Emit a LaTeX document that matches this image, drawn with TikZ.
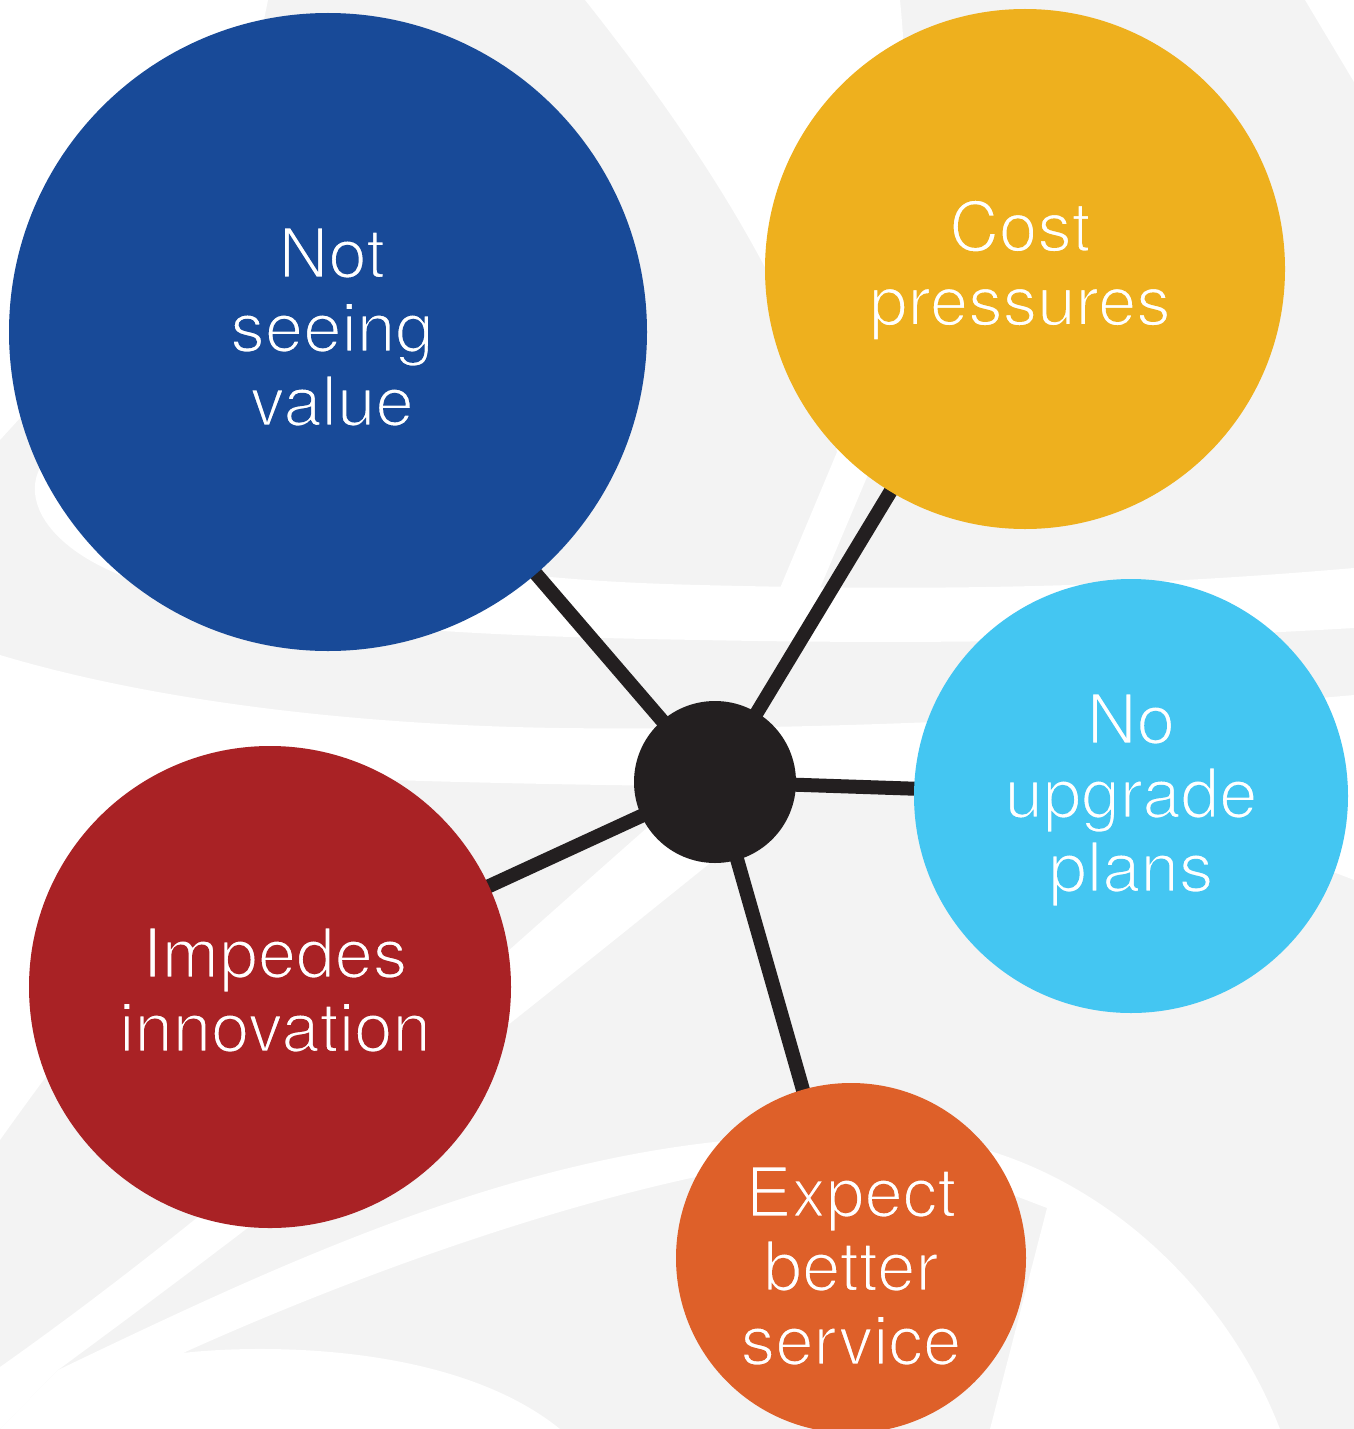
\documentclass[tikz,border=0pt]{standalone}
\usepackage{fontspec}
\setmainfont{TeX Gyre Heros}
\definecolor{paper}{HTML}{F3F3F3}
\definecolor{navy}{HTML}{184A98}
\definecolor{amber}{HTML}{EEB01E}
\definecolor{sky}{HTML}{44C6F2}
\definecolor{brick}{HTML}{A92225}
\definecolor{rust}{HTML}{DE6029}
\definecolor{hubcol}{HTML}{231F20}
% trim the glyph outlines with a thin stroke in the bubble colour
\newcommand\lightink[1]{\special{pdf:literal direct #1 RG 2 Tr 1 w}}
\pgfdeclarelayer{back}
\pgfdeclarelayer{links}
\pgfsetlayers{back,links,main}
\begin{document}
\begin{tikzpicture}[x=0.5pt,y=-0.5pt,
  bubble/.style={circle,inner sep=0pt},
  caption/.style={inner sep=0pt,text=white,align=center,
    font=\fontsize{34.5}{37}\selectfont},
  link/.style={line width=7pt,draw=hubcol},
  swoosh/.style={fill=white}]
\useasboundingbox (0,0) rectangle (1354,1429);

% the five themes and the hub joining them
\node[bubble,fill=navy,minimum size=319pt]  (value)   at (328,332)  {};
\node[bubble,fill=amber,minimum size=260pt] (cost)    at (1025,269) {};
\node[bubble,fill=sky,minimum size=217pt]   (upgrade) at (1131,796) {};
\node[bubble,fill=brick,minimum size=241pt] (innov)   at (270,987)  {};
\node[bubble,fill=rust,minimum size=175pt]  (service) at (851,1258) {};
\node[bubble,fill=hubcol,minimum size=81pt] (hub)     at (715,782)  {};

\node[caption] (value-text)   at (332,327)  {\lightink{0.094 0.290 0.596}Not\\seeing\\value};
\node[caption] (cost-text)    at (1020,270) {\lightink{0.933 0.690 0.118}Cost\\pressures};
\node[caption] (upgrade-text) at (1131,800) {\lightink{0.267 0.776 0.949}No\\upgrade\\plans};
\node[caption] (innov-text)   at (275,990)  {\lightink{0.663 0.133 0.145}Impedes\\innovation};
\node[caption] (service-text) at (851,1266) {\lightink{0.871 0.376 0.161}Expect\\better\\service};

\begin{pgfonlayer}{links}
  \draw[link] (hub.center) -- (value.center);
  \draw[link] (hub.center) -- (cost.center);
  \draw[link] (hub.center) -- (upgrade.center);
  \draw[link] (hub.center) -- (innov.center);
  \draw[link] (hub.center) -- (service.center);
\end{pgfonlayer}

\begin{pgfonlayer}{back}
  \fill[paper] (0,0) rectangle (1354,1429);
  % top-left corner
  \fill[swoosh] (0,0) -- (268,0) .. controls (230,200) and (100,330) .. (0,440) -- cycle;
  % top-right corner
  \fill[swoosh] (1305,0) -- (1354,0) -- (1354,82) -- cycle;
  % stripe falling from the top edge
  \fill[swoosh] (585,0) -- (900,0) .. controls (915,150) and (905,380) .. (867,477)
    -- (815,600) -- (775,600) -- (837,452) .. controls (800,290) and (680,120) .. (585,0) -- cycle;
  % upper horizontal band
  \fill[swoosh] (1354,568) .. controls (1100,590) and (900,590) .. (700,585)
    .. controls (500,580) and (300,560) .. (100,430)
    .. controls (10,450) and (10,530) .. (120,575)
    .. controls (250,625) and (450,636) .. (700,640)
    .. controls (950,645) and (1150,640) .. (1354,628) -- cycle;
  % lower horizontal band and left field
  \fill[swoosh] (0,655) .. controls (150,700) and (350,725) .. (560,728)
    .. controls (800,731) and (1100,718) .. (1354,695) -- (1354,880)
    .. controls (1150,800) and (950,788) .. (800,787)
    .. controls (600,786) and (450,782) .. (393,780)
    .. controls (250,800) and (100,1000) .. (0,1140) -- cycle;
  % diagonal band towards the hub
  \fill[swoosh] (0,1367) .. controls (250,1190) and (450,1000) .. (690,790)
    -- (745,835) .. controls (540,1000) and (330,1170) .. (58,1370) -- (0,1429) -- cycle;
  % long arc along the bottom
  \fill[swoosh] (58,1370) .. controls (350,1230) and (650,1090) .. (987,1150)
    .. controls (1120,1190) and (1230,1300) .. (1280,1429) -- (990,1429) -- (1047,1208)
    -- (1013,1195) .. controls (900,1150) and (800,1160) .. (691,1178)
    .. controls (500,1220) and (300,1300) .. (183,1353)
    .. controls (250,1345) and (450,1340) .. (560,1429) -- (0,1429) -- cycle;
\end{pgfonlayer}
\end{tikzpicture}
\end{document}
